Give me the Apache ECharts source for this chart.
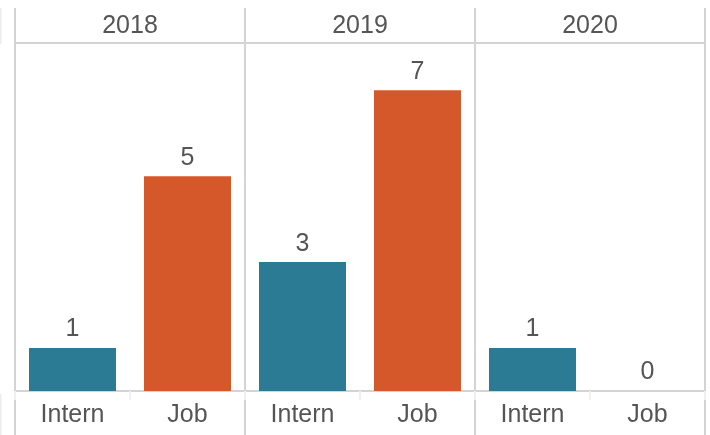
<!DOCTYPE html>
<html>
<head>
<meta charset="utf-8">
<script src="https://cdn.jsdelivr.net/npm/echarts@6/dist/echarts.min.js"></script>
<style>
  html, body { margin: 0; padding: 0; background: #fff; }
  #chart { width: 710px; height: 435px; }
</style>
</head>
<body>
<div id="chart"></div>
<script>
var years = ['2018', '2019', '2020'];
var categories = ['Intern', 'Job'];
var intern = [1, 3, 1];
var job = [5, 7, 0];

var font = '"Liberation Sans Narrow", "Arial Narrow", "Liberation Sans", sans-serif';
var fontSize = 25;
var textColor = '#555555';
var lineColor = '#d4d4d4';
var barColors = { Intern: '#2a7b93', Job: '#d4582a' };

var chart = echarts.init(document.getElementById('chart'));

var grids = [], xAxes = [], yAxes = [], series = [];
for (var i = 0; i < years.length; i++) {
    grids.push({ left: 15 + i * 230, width: 230, top: 43, height: 348 });
    // bottom: Intern / Job
    xAxes.push({
        type: 'category', gridIndex: i, position: 'bottom',
        data: categories,
        axisLine: { show: true, lineStyle: { color: lineColor, width: 2 } },
        axisTick: { show: true, length: 9, lineStyle: { color: '#f0f0f0', width: 2 } },
        axisLabel: { color: textColor, fontSize: fontSize, fontFamily: font, margin: 12 }
    });
    // top: year header
    xAxes.push({
        type: 'category', gridIndex: i, position: 'top',
        data: [years[i]],
        axisLine: { show: true, lineStyle: { color: lineColor, width: 2 } },
        axisTick: { show: false },
        axisLabel: { color: textColor, fontSize: fontSize, fontFamily: font, margin: 4 }
    });
    yAxes.push({
        type: 'value', gridIndex: i, min: 0, max: 8.1,
        show: false, splitLine: { show: false }
    });
    series.push({
        type: 'bar',
        xAxisIndex: i * 2, yAxisIndex: i,
        data: [intern[i], job[i]],
        barWidth: 87,
        itemStyle: {
            color: function (p) { return barColors[p.name]; }
        },
        label: {
            show: true, position: 'top', distance: 6,
            color: textColor, fontSize: fontSize, fontFamily: font
        }
    });
}

// panel separators
var graphics = [];
[15, 245, 475, 705].forEach(function (x) {
    graphics.push({
        type: 'line', silent: true,
        shape: { x1: x, y1: 8, x2: x, y2: 435 },
        style: { stroke: lineColor, lineWidth: 2 }
    });
});
graphics.push({ type: 'line', silent: true, shape: { x1: 0.5, y1: 8, x2: 0.5, y2: 44 }, style: { stroke: '#ececec', lineWidth: 2 } });
graphics.push({ type: 'line', silent: true, shape: { x1: 0.5, y1: 394, x2: 0.5, y2: 435 }, style: { stroke: '#ececec', lineWidth: 2 } });

chart.setOption({
    animation: false,
    grid: grids,
    xAxis: xAxes,
    yAxis: yAxes,
    series: series,
    graphic: graphics
});
</script>
</body>
</html>
